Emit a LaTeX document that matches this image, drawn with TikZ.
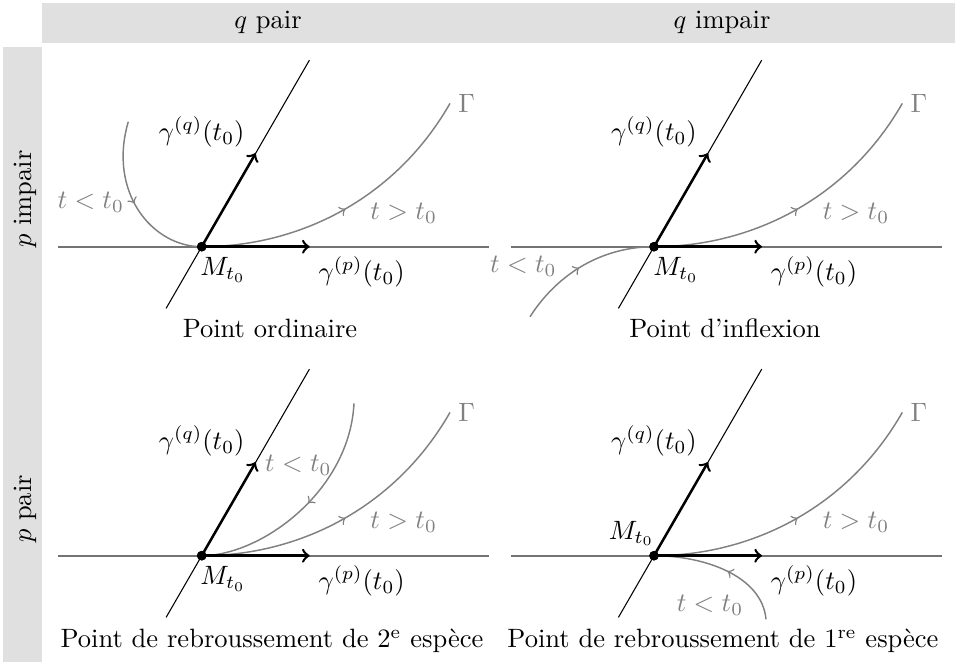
\documentclass[tikz,border=0pt]{standalone}
\usetikzlibrary{decorations.markings}
\begin{document}
\begin{tikzpicture}[x=0.377pt,y=-0.377pt,
  axis/.style={draw=black!55, line width=0.65pt},
  obl/.style={draw=black, line width=0.4pt},
  vec/.style={draw=black, line width=0.95pt, ->},
  curve/.style={draw=black!50, line width=0.55pt},
  midarrow/.style={postaction={decorate}, decoration={markings, mark=at position #1 with {\arrow{>}}}},
  lbl/.style={text=black!50, inner sep=1pt},
  dot/.style={circle, fill=black, inner sep=0pt, minimum size=3.6pt},
  band/.style={fill=black!12, draw=none},
  ]
\useasboundingbox (0,0) rectangle (955,662);
% bands
\fill[band] (42,3) rectangle (955,43);
\fill[band] (3,47) rectangle (42,662);
\node (hq1) at (268,22) {$q$ pair};
\node (hq2) at (722,22) {$q$ impair};
\node[rotate=90] (hp1) at (25,199) {$p$ impair};
\node[rotate=90] (hp2) at (25,509) {$p$ pair};

% ---------- panel 1 : top-left ----------
\begin{scope}[shift={(201.7,246.7)}, yscale=-1]
  \coordinate (a1l) at (-143.5,0); \coordinate (a1r) at (287.5,0);
  \coordinate (o1b) at (-35.6,-61.7); \coordinate (o1t) at (107.75,186.6);
  \coordinate (q1) at (54,93.5); \coordinate (p1) at (108,0);
  \coordinate (g1) at (248.3,143.3); \coordinate (s1) at (-73.4,125);
  \draw[axis] (a1l) -- (a1r);
  \draw[obl] (o1b) -- (o1t);
  \node[dot] (M1) at (0,0) {};
  \draw[curve, midarrow=0.5] (M1.center) .. controls (100,0) and (195,50) .. (g1);
  \draw[curve, midarrow=0.5] (s1) .. controls (-94,55) and (-50,0) .. (M1.center);
  \draw[vec] (M1.center) -- (q1);
  \draw[vec] (M1.center) -- (p1);
  \node[dot] at (M1) {};
  \node[lbl] (G1) at (265,143.4) {$\Gamma$};
  \node[lbl] (tp1) at (202,33.5) {$t>t_0$};
  \node[lbl] (tm1) at (-110.9,44.4) {$t<t_0$};
  \node (gq1) at (0,115) {$\gamma^{(q)}(t_0)$};
  \node (gp1) at (160,-25) {$\gamma^{(p)}(t_0)$};
  \node (ML1) at (21.5,-23.5) {$M_{t_0}$};
\end{scope}

% ---------- panel 2 : top-right ----------
\begin{scope}[shift={(654,246.7)}, yscale=-1]
  \coordinate (a2l) at (-143.5,0); \coordinate (a2r) at (287.5,0);
  \coordinate (o2b) at (-35.6,-61.7); \coordinate (o2t) at (107.75,186.6);
  \coordinate (q2) at (54,93.5); \coordinate (p2) at (108,0);
  \coordinate (g2) at (248.3,143.3); \coordinate (s2) at (-124,-70);
  \draw[axis] (a2l) -- (a2r);
  \draw[obl] (o2b) -- (o2t);
  \node[dot] (M2) at (0,0) {};
  \draw[curve, midarrow=0.5] (M2.center) .. controls (100,0) and (195,50) .. (g2);
  \draw[curve, midarrow=0.47] (s2) .. controls (-95,-25) and (-50,0) .. (M2.center);
  \draw[vec] (M2.center) -- (q2);
  \draw[vec] (M2.center) -- (p2);
  \node[dot] at (M2) {};
  \node[lbl] (G2) at (265,143.4) {$\Gamma$};
  \node[lbl] (tp2) at (202,33.5) {$t>t_0$};
  \node[lbl] (tm2) at (-130.7,-20) {$t<t_0$};
  \node (gq2) at (0,115) {$\gamma^{(q)}(t_0)$};
  \node (gp2) at (160,-25) {$\gamma^{(p)}(t_0)$};
  \node (ML2) at (22,-23.5) {$M_{t_0}$};
\end{scope}

% ---------- panel 3 : bottom-left ----------
\begin{scope}[shift={(201.7,555.7)}, yscale=-1]
  \coordinate (a3l) at (-143.5,0); \coordinate (a3r) at (287.5,0);
  \coordinate (o3b) at (-35.6,-61.7); \coordinate (o3t) at (107.75,186.6);
  \coordinate (q3) at (54,93.5); \coordinate (p3) at (108,0);
  \coordinate (g3) at (248.3,143.3); \coordinate (s3) at (152.3,152.4);
  \draw[axis] (a3l) -- (a3r);
  \draw[obl] (o3b) -- (o3t);
  \node[dot] (M3) at (0,0) {};
  \draw[curve, midarrow=0.5] (M3.center) .. controls (100,0) and (195,50) .. (g3);
  \draw[curve, midarrow=0.48] (s3) .. controls (148,65) and (60,0) .. (M3.center);
  \draw[vec] (M3.center) -- (q3);
  \draw[vec] (M3.center) -- (p3);
  \node[dot] at (M3) {};
  \node[lbl] (G3) at (265,143.4) {$\Gamma$};
  \node[lbl] (tp3) at (202,33.5) {$t>t_0$};
  \node[lbl] (tm3) at (96.7,90.7) {$t<t_0$};
  \node (gq3) at (0,115) {$\gamma^{(q)}(t_0)$};
  \node (gp3) at (160,-25) {$\gamma^{(p)}(t_0)$};
  \node (ML3) at (21.5,-23.5) {$M_{t_0}$};
\end{scope}

% ---------- panel 4 : bottom-right ----------
\begin{scope}[shift={(654,555.7)}, yscale=-1]
  \coordinate (a4l) at (-143.5,0); \coordinate (a4r) at (287.5,0);
  \coordinate (o4b) at (-35.6,-61.7); \coordinate (o4t) at (107.75,186.6);
  \coordinate (q4) at (54,93.5); \coordinate (p4) at (108,0);
  \coordinate (g4) at (248.3,143.3); \coordinate (s4) at (112,-63.6);
  \draw[axis] (a4l) -- (a4r);
  \draw[obl] (o4b) -- (o4t);
  \node[dot] (M4) at (0,0) {};
  \draw[curve, midarrow=0.5] (M4.center) .. controls (100,0) and (195,50) .. (g4);
  \draw[curve, midarrow=0.46] (s4) .. controls (108,-20) and (50,0) .. (M4.center);
  \draw[vec] (M4.center) -- (q4);
  \draw[vec] (M4.center) -- (p4);
  \node[dot] at (M4) {};
  \node[lbl] (G4) at (265,143.4) {$\Gamma$};
  \node[lbl] (tp4) at (202,33.5) {$t>t_0$};
  \node[lbl] (tm4) at (56,-49.3) {$t<t_0$};
  \node (gq4) at (0,115) {$\gamma^{(q)}(t_0)$};
  \node (gp4) at (160,-25) {$\gamma^{(p)}(t_0)$};
  \node (ML4) at (-22.3,22.4) {$M_{t_0}$};
\end{scope}

% captions
\node (c1) at (270,328) {Point ordinaire};
\node (c2) at (725,328) {Point d’inflexion};
\node (c3) at (272,641) {Point de rebroussement de 2\textsuperscript{e} espèce};
\node (c4) at (723,641) {Point de rebroussement de 1\textsuperscript{re} espèce};
\end{tikzpicture}
\end{document}
